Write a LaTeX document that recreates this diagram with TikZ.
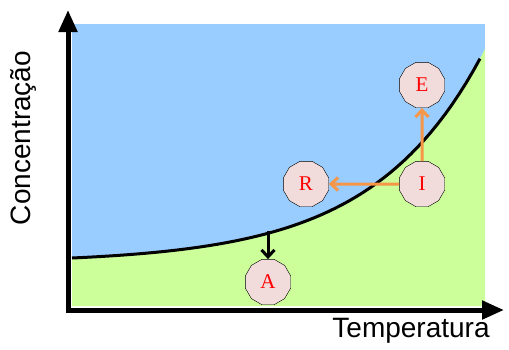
\documentclass[tikz,border=0pt]{standalone}
\usepackage{fontspec}
\newfontfamily\axisfont{Liberation Sans}
\newfontfamily\phasefont{Liberation Serif}
\usetikzlibrary{arrows.meta,shapes.geometric}

\definecolor{skyblue}{HTML}{99CCFF}
\definecolor{limegreen}{HTML}{CCFF99}
\definecolor{nodepink}{HTML}{F2DCDB}
\definecolor{arrorange}{HTML}{F79646}

\begin{document}
\begin{tikzpicture}[
  x=1pt, y=-1pt,
  phase/.style={regular polygon,regular polygon sides=12,draw,thin,fill=nodepink,
    minimum size=47pt,inner sep=0pt,text=red,font=\phasefont\fontsize{21}{21}\selectfont},
  axis/.style={line width=5pt,-{Triangle[length=22pt,width=18pt]}},
  move/.style={line width=3pt,arrorange,-{Straight Barb[length=7pt,width=13pt]}},
  axlabel/.style={font=\axisfont\fontsize{28}{28}\selectfont}
]
\useasboundingbox (0,0) rectangle (509,349);

% regions
\fill[skyblue] (72,24) rectangle (485,306);
\fill[limegreen] plot[domain=72:485,samples=60] (\x,{263-5*exp(0.0091*(\x-72))})
  -- (485,306) -- (72,306) -- cycle;
\draw[line width=3pt] plot[domain=72:480,samples=60] (\x,{263-5*exp(0.0091*(\x-72))});

% axes
\coordinate (origin) at (68,310);
\coordinate (ytip) at (68,10);
\coordinate (xtip) at (504,310);
\draw[axis] ([yshift=2.5pt]origin) -- (ytip);
\draw[axis] ([xshift=-2.5pt]origin) -- (xtip);
\node[axlabel,rotate=90] (ylab) at (23,138) {Concentração};
\node[axlabel] (xlab) at (411,331) {Temperatura};

% phases
\node[phase] (e) at (422,85) {E};
\node[phase] (i) at (422,184) {I};
\node[phase] (r) at (306,184) {R};
\node[phase] (a) at (268,282) {A};
\coordinate (onCurve) at (268,231);

\draw[move] (i) -- (r);
\draw[move] (i) -- (e);
\draw[line width=3pt,-{Straight Barb[length=7pt,width=13pt]}] (onCurve) -- (a);
\end{tikzpicture}
\end{document}
